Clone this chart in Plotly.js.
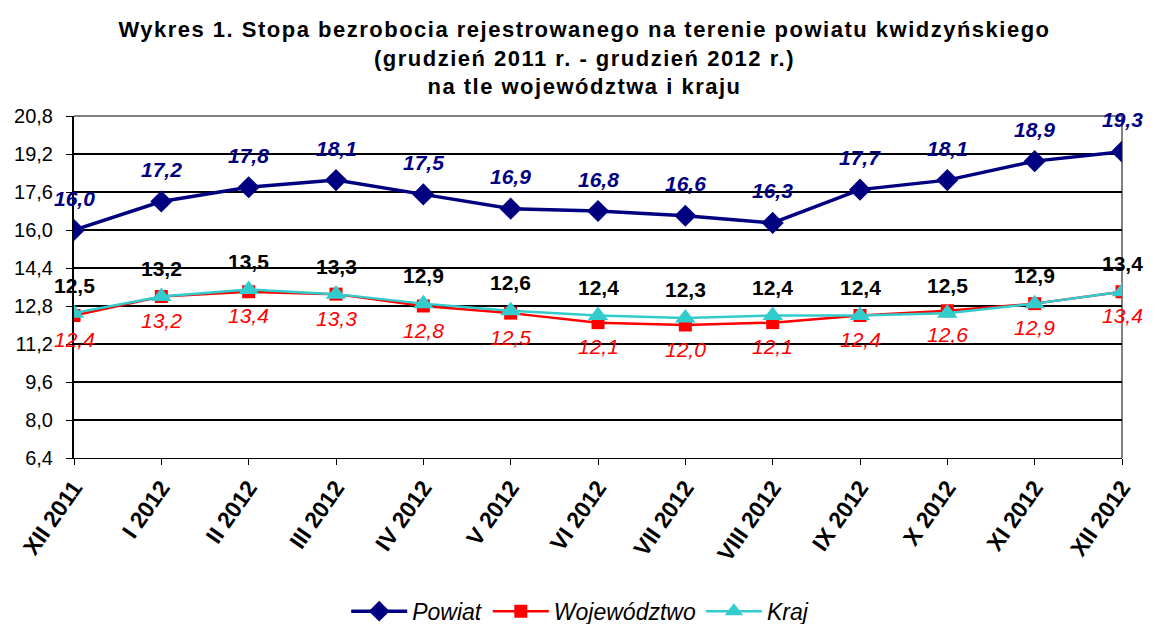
<!DOCTYPE html>
<html>
<head>
<meta charset="utf-8">
<script src="https://cdn.plot.ly/plotly-3.0.1.min.js"></script>
<style>
html,body{margin:0;padding:0;background:#fff;}
#chart{width:1176px;height:624px;}
.gtitle{letter-spacing:1.5px;}
</style>
</head>
<body>
<div id="chart"></div>
<script>
var categories = ["XII 2011","I 2012","II 2012","III 2012","IV 2012","V 2012","VI 2012","VII 2012","VIII 2012","IX 2012","X 2012","XI 2012","XII 2012"];
var powiat = [16.0, 17.2, 17.8, 18.1, 17.5, 16.9, 16.8, 16.6, 16.3, 17.7, 18.1, 18.9, 19.3];
var wojewodztwo = [12.4, 13.2, 13.4, 13.3, 12.8, 12.5, 12.1, 12.0, 12.1, 12.4, 12.6, 12.9, 13.4];
var kraj = [12.5, 13.2, 13.5, 13.3, 12.9, 12.6, 12.4, 12.3, 12.4, 12.4, 12.5, 12.9, 13.4];
var yTicks = [6.4, 8.0, 9.6, 11.2, 12.8, 14.4, 16.0, 17.6, 19.2, 20.8];

var FONT = "Liberation Sans, Arial, sans-serif";
function fmt(v){ return v.toFixed(1).replace('.', ','); }

var traces = [
  {x: categories, y: powiat, name: "Powiat", type: "scatter", mode: "lines+markers",
   line: {color: "#000080", width: 3.5}, marker: {symbol: "diamond", size: 17, color: "#000080"}},
  {x: categories, y: wojewodztwo, name: "Województwo", type: "scatter", mode: "lines+markers",
   line: {color: "#FF0000", width: 2.5}, marker: {symbol: "square", size: 13, color: "#FF0000"}},
  {x: categories, y: kraj, name: "Kraj", type: "scatter", mode: "lines+markers",
   line: {color: "#33CCCC", width: 2.5}, marker: {symbol: "triangle-up", size: 18, color: "#33CCCC"}}
];

var annotations = [];
categories.forEach(function(c, i){
  annotations.push({x: c, y: powiat[i], xref: "x", yref: "y", text: fmt(powiat[i]), showarrow: false,
    yshift: 32, font: {family: FONT, size: 21, color: "#000080", weight: "bold", style: "italic"}});
  annotations.push({x: c, y: kraj[i], xref: "x", yref: "y", text: fmt(kraj[i]), showarrow: false,
    yshift: 28, font: {family: FONT, size: 21, color: "#000000", weight: "bold"}});
  annotations.push({x: c, y: wojewodztwo[i], xref: "x", yref: "y", text: fmt(wojewodztwo[i]), showarrow: false,
    yshift: -24, font: {family: FONT, size: 21, color: "#FF0000", style: "italic"}});
});

var layout = {
  width: 1176, height: 624,
  margin: {l: 74, r: 54, t: 116, b: 166, autoexpand: false},
  paper_bgcolor: "#fff", plot_bgcolor: "#fff",
  font: {family: FONT, color: "#000"},
  title: {
    text: "Wykres 1. Stopa bezrobocia rejestrowanego na terenie powiatu kwidzyńskiego<br>(grudzień 2011 r. - grudzień 2012 r.)<br>na tle województwa i kraju",
    font: {family: FONT, size: 22, color: "#000", weight: "bold"},
    x: 0.497, xanchor: "center", xref: "container",
    y: 1 - 37/624, yanchor: "middle", yref: "container"
  },
  xaxis: {
    type: "category", range: [0, 12], automargin: false,
    showgrid: false, zeroline: false,
    showline: true, linecolor: "#000", linewidth: 1,
    ticks: "outside", ticklen: 6, tickcolor: "#000", tickwidth: 1,
    tickangle: -55,
    tickfont: {family: FONT, size: 23, color: "#000", weight: "bold"}
  },
  yaxis: {
    range: [6.4, 20.8], tickvals: yTicks, ticktext: yTicks.map(fmt), automargin: false,
    showgrid: true, gridcolor: "#000", gridwidth: 2,
    zeroline: false,
    showline: true, linecolor: "#000", linewidth: 2,
    ticks: "outside", ticklen: 6, tickcolor: "#000",
    ticklabelstandoff: 9,
    tickfont: {family: FONT, size: 20, color: "#000"}
  },
  shapes: [
    {type: "line", xref: "paper", yref: "paper", x0: 0, x1: 1, y0: 1, y1: 1, layer: "between",
     line: {color: "#808080", width: 2}},
    {type: "line", xref: "paper", yref: "paper", x0: 1, x1: 1, y0: 0, y1: 1, layer: "between",
     line: {color: "#808080", width: 2}}
  ],
  showlegend: true,
  legend: {
    orientation: "h", x: 0.483, xanchor: "center", y: -0.448, yanchor: "middle",
    font: {family: FONT, size: 23, color: "#000", style: "italic"},
    itemwidth: 56, bgcolor: "rgba(0,0,0,0)"
  },
  annotations: annotations
};

Plotly.newPlot("chart", traces, layout, {displayModeBar: false, staticPlot: true});
</script>
</body>
</html>
